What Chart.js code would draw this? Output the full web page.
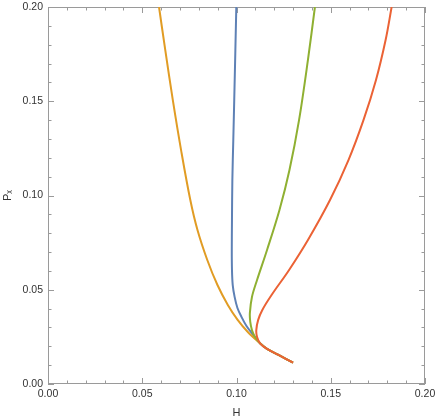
<!DOCTYPE html>
<html>
<head>
<meta charset="utf-8">
<script src="https://cdn.jsdelivr.net/npm/chart.js@4"></script>
<style>
  html, body { margin: 0; padding: 0; background: #fff; }
  #plot { display: block; }
</style>
</head>
<body>
<canvas id="plot" width="436" height="420"></canvas>
<script>
// curves, top end first, following each path down to the shared tip
const blueH = [0.0999, 0.0994, 0.0988, 0.0983, 0.0978, 0.0976, 0.0975, 0.0976, 0.0980, 0.0990, 0.1005, 0.1027, 0.1053, 0.1085, 0.1125, 0.1162, 0.1223, 0.1300];
const bluePx = [0.2000, 0.1772, 0.1507, 0.1294, 0.1082, 0.0870, 0.0711, 0.0605, 0.0525, 0.0462, 0.0403, 0.0355, 0.0308, 0.0265, 0.0216, 0.0186, 0.0154, 0.0113];

const orangeH = [0.0589, 0.0622, 0.0662, 0.0706, 0.0755, 0.0793, 0.0845, 0.0899, 0.0954, 0.1006, 0.1060, 0.1125, 0.1162, 0.1223, 0.1300];
const orangePx = [0.2000, 0.1772, 0.1507, 0.1241, 0.0976, 0.0817, 0.0658, 0.0525, 0.0419, 0.0340, 0.0276, 0.0216, 0.0186, 0.0154, 0.0113];

const greenH = [0.1416, 0.1379, 0.1332, 0.1281, 0.1228, 0.1162, 0.1109, 0.1082, 0.1071, 0.1073, 0.1082, 0.1098, 0.1125, 0.1162, 0.1223, 0.1300];
const greenPx = [0.2000, 0.1719, 0.1401, 0.1135, 0.0923, 0.0711, 0.0552, 0.0462, 0.0377, 0.0329, 0.0286, 0.0249, 0.0216, 0.0186, 0.0154, 0.0113];

const redH = [0.1823, 0.1791, 0.1740, 0.1674, 0.1594, 0.1496, 0.1379, 0.1279, 0.1186, 0.1137, 0.1115, 0.1105, 0.1109, 0.1125, 0.1162, 0.1223, 0.1300];
const redPx = [0.2000, 0.1825, 0.1613, 0.1401, 0.1188, 0.0976, 0.0764, 0.0605, 0.0472, 0.0393, 0.0340, 0.0286, 0.0249, 0.0216, 0.0186, 0.0154, 0.0113];

const axisMin = 0;
const axisMax = 0.2;
const majorStep = 0.05;
const minorStep = 0.01;

const labelFont = '"Liberation Sans", Arial, "DejaVu Sans", sans-serif';

function toPoints(hs, ps) {
  return hs.map((h, i) => ({ x: h, y: ps[i] }));
}

function curve(hs, ps, color, order) {
  return {
    data: toPoints(hs, ps),
    borderColor: color,
    backgroundColor: color,
    borderWidth: 2,
    showLine: true,
    pointRadius: 0,
    tension: 0.35,
    fill: false,
    order,
  };
}

// Mathematica-style frame: box round the plot area with ticks pointing inward on all sides
const frameTicks = {
  id: 'frameTicks',
  beforeDatasetsDraw(chart) {
    const { ctx, chartArea: a, scales: { x, y } } = chart;
    ctx.save();
    ctx.strokeStyle = '#9a9a9a';
    ctx.lineWidth = 1;
    ctx.strokeRect(a.left + 0.5, a.top + 0.5, a.right - a.left - 1, a.bottom - a.top - 1);
    ctx.beginPath();
    const count = Math.round((axisMax - axisMin) / minorStep);
    const every = Math.round(majorStep / minorStep);
    for (let i = 0; i <= count; i++) {
      const v = axisMin + i * minorStep;
      const len = i % every === 0 ? 6 : 3.5;
      const px = Math.round(x.getPixelForValue(v)) + 0.5;
      ctx.moveTo(px, a.bottom);
      ctx.lineTo(px, a.bottom - len);
      ctx.moveTo(px, a.top);
      ctx.lineTo(px, a.top + len);
      const py = Math.round(y.getPixelForValue(v)) + 0.5;
      ctx.moveTo(a.left, py);
      ctx.lineTo(a.left + len, py);
      ctx.moveTo(a.right, py);
      ctx.lineTo(a.right - len, py);
    }
    ctx.stroke();
    ctx.restore();
  },
};

new Chart(document.getElementById('plot').getContext('2d'), {
  type: 'scatter',
  data: {
    datasets: [
      curve(blueH, bluePx, '#5e81b5', 4),
      curve(orangeH, orangePx, '#e19c24', 3),
      curve(greenH, greenPx, '#8fb032', 2),
      curve(redH, redPx, '#eb6235', 1),
    ],
  },
  options: {
    responsive: false,
    animation: false,
    devicePixelRatio: 1,
    layout: { padding: { top: 7, right: 11, bottom: 0, left: 0 } },
    plugins: {
      legend: { display: false },
      tooltip: { enabled: false },
    },
    scales: {
      x: {
        type: 'linear',
        min: axisMin,
        max: axisMax,
        // grid hidden; its tick length only spaces the labels off the frame
        grid: { display: false, drawTicks: true, tickLength: 4 },
        border: { display: false },
        ticks: {
          stepSize: majorStep,
          maxRotation: 0,
          autoSkip: false,
          padding: 0,
          color: '#333',
          font: { family: labelFont, size: 10.5 },
          callback: v => Number(v).toFixed(2),
        },
        title: {
          display: true,
          text: 'H',
          color: '#333',
          padding: { top: 0, bottom: 0 },
          font: { family: labelFont, size: 11 },
        },
        afterFit(scale) { scale.height = 36; },
      },
      y: {
        type: 'linear',
        min: axisMin,
        max: axisMax,
        grid: { display: false, drawTicks: true, tickLength: 5 },
        border: { display: false },
        ticks: {
          stepSize: majorStep,
          autoSkip: false,
          padding: 0,
          color: '#333',
          font: { family: labelFont, size: 10.5 },
          callback: v => Number(v).toFixed(2),
        },
        title: {
          display: true,
          text: 'Pₓ',
          color: '#333',
          padding: { top: 1.5, bottom: 0 },
          font: { family: labelFont, size: 11 },
        },
        afterFit(scale) { scale.width = 48; },
      },
    },
  },
  plugins: [frameTicks],
});
</script>
</body>
</html>
